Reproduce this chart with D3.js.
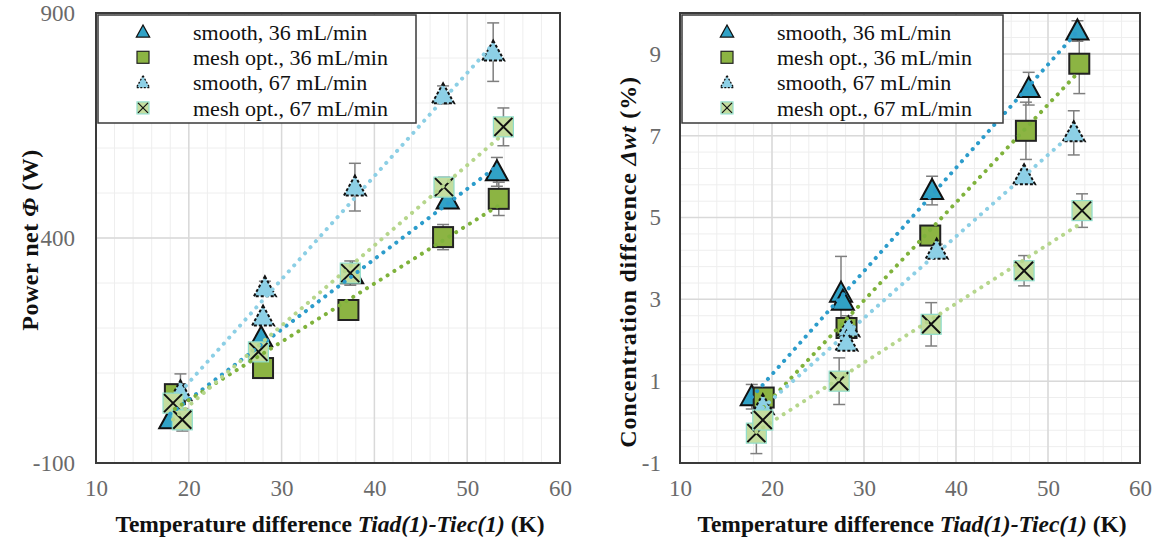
<!DOCTYPE html>
<html>
<head>
<meta charset="utf-8">
<script src="https://cdn.jsdelivr.net/npm/d3@7"></script>
<style>
  body { margin: 0; background: #fff; }
  svg { display: block; }
</style>
</head>
<body>
<svg id="chart" width="1162" height="542"></svg>
<script>
// --- DATA ---
const xTicks = [10, 20, 30, 40, 50, 60];
const powerTicks = [-100, 400, 900];
const concTicks = [-1, 1, 3, 5, 7, 9];
const legendLabels = ["smooth, 36 mL/min", "mesh opt., 36 mL/min", "smooth, 67 mL/min", "mesh opt., 67 mL/min"];

// left panel: power net (W)
const powSmooth36X = [18.0, 27.8, 37.6, 47.9, 53.2];
const powSmooth36Y = [-4, 178, 318, 484, 547];
const powSmooth36E = [0, 0, 0, 10, 32];
const powMesh36X = [18.5, 28.0, 37.2, 47.4, 53.4];
const powMesh36Y = [53, 111, 240, 402, 487];
const powMesh36E = [0, 0, 0, 28, 37];
const powSmooth67X = [19.1, 28.2, 28.0, 37.9, 47.4, 52.8];
const powSmooth67Y = [58, 289, 224, 513, 718, 813];
const powSmooth67E = [40, 15, 0, 53, 20, 65];
const powMesh67X = [18.3, 19.3, 27.5, 37.4, 47.5, 53.9];
const powMesh67Y = [33, -4, 147, 322, 513, 647];
const powMesh67E = [30, 25, 0, 27, 22, 42];

// right panel: concentration difference (%)
const conSmooth36X = [17.8, 27.5, 27.7, 37.4, 47.9, 53.2];
const conSmooth36Y = [0.62, 3.15, 2.95, 5.66, 8.15, 9.56];
const conSmooth36E = [0.3, 0.9, 0, 0.35, 0.4, 0.25];
const conMesh36X = [19.1, 28.1, 37.2, 47.6, 53.4];
const conMesh36Y = [0.6, 2.3, 4.56, 7.12, 8.76];
const conMesh36E = [0, 0.3, 0, 0.7, 0.73];
const conSmooth67X = [19.0, 28.3, 28.1, 37.9, 47.4, 52.8];
const conSmooth67Y = [0.4, 2.3, 1.95, 4.2, 6.02, 7.07];
const conSmooth67E = [0, 0, 0, 0.15, 0, 0.54];
const conMesh67X = [18.3, 19.0, 27.3, 37.3, 47.4, 53.7];
const conMesh67Y = [-0.27, 0.05, 1.0, 2.39, 3.7, 5.17];
const conMesh67E = [0.5, 0, 0.57, 0.53, 0.37, 0.41];

// --- STYLE ---
const styles = [
  { shape: "tri", fill: "#31a2c6", stroke: "#111", dash: null, trend: "#2c9ccb" },
  { shape: "sq", fill: "#8cb443", stroke: "#222", dash: null, trend: "#7fb23c" },
  { shape: "tri", fill: "#8dd0e6", stroke: "#111", dash: "3,2", trend: "#8ccfe5" },
  { shape: "x", fill: "#c4dd9f", stroke: "#8fdccb", dash: null, trend: "#b6d68c" }
];

function zipSeries(xs, ys, es) {
  return xs.map((x, i) => ({ x: x, y: ys[i], e: es[i] }));
}

const powerSeries = [
  zipSeries(powSmooth36X, powSmooth36Y, powSmooth36E),
  zipSeries(powMesh36X, powMesh36Y, powMesh36E),
  zipSeries(powSmooth67X, powSmooth67Y, powSmooth67E),
  zipSeries(powMesh67X, powMesh67Y, powMesh67E)
];
const concSeries = [
  zipSeries(conSmooth36X, conSmooth36Y, conSmooth36E),
  zipSeries(conMesh36X, conMesh36Y, conMesh36E),
  zipSeries(conSmooth67X, conSmooth67Y, conSmooth67E),
  zipSeries(conMesh67X, conMesh67Y, conMesh67E)
];

const svg = d3.select("#chart");
const serif = "'Liberation Serif', 'Times New Roman', serif";
const plotTop = 13, plotBottom = 463;
const fmt = d => String(d); // plain hyphen for negatives, like the original

// marker drawing
function drawMarker(g, st, size) {
  const s = size;
  if (st.shape === "tri") {
    g.append("path")
      .attr("d", `M0,${-s * 0.58}L${s * 0.55},${s * 0.42}L${-s * 0.55},${s * 0.42}Z`)
      .attr("fill", st.fill)
      .attr("stroke", st.stroke)
      .attr("stroke-width", s > 14 ? 2 : 1.3)
      .attr("stroke-dasharray", st.dash && s > 14 ? st.dash : (st.dash ? "2,1.5" : null))
      .attr("stroke-linejoin", "miter");
  } else if (st.shape === "sq") {
    g.append("rect")
      .attr("x", -s / 2).attr("y", -s / 2).attr("width", s).attr("height", s)
      .attr("fill", st.fill).attr("stroke", st.stroke).attr("stroke-width", s > 14 ? 2 : 1.2);
  } else {
    g.append("rect")
      .attr("x", -s / 2).attr("y", -s / 2).attr("width", s).attr("height", s)
      .attr("fill", st.fill).attr("stroke", st.stroke).attr("stroke-width", 1.2);
    const d = s / 2 - 1;
    g.append("path")
      .attr("d", `M${-d},${-d}L${d},${d}M${d},${-d}L${-d},${d}`)
      .attr("stroke", "#111").attr("stroke-width", s > 14 ? 2 : 1.2);
  }
}

function linFit(pts) {
  const mx = d3.mean(pts, p => p.x), my = d3.mean(pts, p => p.y);
  const sxy = d3.sum(pts, p => (p.x - mx) * (p.y - my));
  const sxx = d3.sum(pts, p => (p.x - mx) * (p.x - mx));
  const b = sxy / sxx;
  return x => my + b * (x - mx);
}

function drawPanel(opt) {
  const x = d3.scaleLinear().domain([10, 60]).range([opt.left, opt.right]);
  const y = d3.scaleLinear().domain(opt.yDomain).range([plotBottom, plotTop]);
  const g = svg.append("g");

  // grid
  const minorX = d3.range(10, 60.01, 2);
  g.append("g").selectAll("line").data(minorX).enter().append("line")
    .attr("x1", d => x(d)).attr("x2", d => x(d)).attr("y1", plotTop).attr("y2", plotBottom)
    .attr("stroke", "#eeeeee").attr("stroke-width", 1);
  g.append("g").selectAll("line").data(opt.minorY).enter().append("line")
    .attr("y1", d => y(d)).attr("y2", d => y(d)).attr("x1", opt.left).attr("x2", opt.right)
    .attr("stroke", "#eeeeee").attr("stroke-width", 1);
  g.append("g").selectAll("line").data(xTicks).enter().append("line")
    .attr("x1", d => x(d)).attr("x2", d => x(d)).attr("y1", plotTop).attr("y2", plotBottom)
    .attr("stroke", "#d9d9d9").attr("stroke-width", 1.5);
  g.append("g").selectAll("line").data(opt.yTicks).enter().append("line")
    .attr("y1", d => y(d)).attr("y2", d => y(d)).attr("x1", opt.left).attr("x2", opt.right)
    .attr("stroke", "#d9d9d9").attr("stroke-width", 1.5);

  // axes (labels only, frame drawn separately)
  const xAxis = g.append("g").attr("transform", `translate(0,${plotBottom})`)
    .call(d3.axisBottom(x).tickValues(xTicks).tickFormat(fmt).tickSize(0).tickPadding(17));
  const yAxis = g.append("g").attr("transform", `translate(${opt.left},0)`)
    .call(d3.axisLeft(y).tickValues(opt.yTicks).tickFormat(fmt).tickSize(0).tickPadding(opt.yPad));
  [xAxis, yAxis].forEach(a => {
    a.select(".domain").remove();
    a.selectAll("text").attr("font-family", serif).attr("font-size", 23).attr("fill", "#6a6a6a");
  });

  // frame
  g.append("rect")
    .attr("x", opt.left).attr("y", plotTop)
    .attr("width", opt.right - opt.left).attr("height", plotBottom - plotTop)
    .attr("fill", "none").attr("stroke", "#3a3a3a").attr("stroke-width", 2);

  // error bars
  opt.series.forEach(ser => {
    ser.filter(p => p.e > 0).forEach(p => {
      const eg = g.append("g").attr("stroke", "#7f7f7f").attr("stroke-width", 1.5);
      eg.append("line").attr("x1", x(p.x)).attr("x2", x(p.x)).attr("y1", y(p.y - p.e)).attr("y2", y(p.y + p.e));
      [p.y - p.e, p.y + p.e].forEach(v => {
        eg.append("line").attr("x1", x(p.x) - 6).attr("x2", x(p.x) + 6).attr("y1", y(v)).attr("y2", y(v));
      });
    });
  });

  // markers
  opt.series.forEach((ser, i) => {
    ser.forEach(p => {
      const mg = g.append("g").attr("transform", `translate(${x(p.x)},${y(p.y)})`);
      drawMarker(mg, styles[i], 20);
    });
  });

  // trend lines
  opt.series.forEach((ser, i) => {
    const f = linFit(ser);
    const [x0, x1] = d3.extent(ser, p => p.x);
    g.append("line")
      .attr("x1", x(x0)).attr("y1", y(f(x0)))
      .attr("x2", x(x1)).attr("y2", y(f(x1)))
      .attr("stroke", styles[i].trend).attr("stroke-width", 4)
      .attr("stroke-linecap", "round").attr("stroke-dasharray", "0.1,8");
  });

  // legend
  const lg = g.append("g");
  lg.append("rect")
    .attr("x", opt.left + 2).attr("y", 15)
    .attr("width", opt.legendW).attr("height", 108)
    .attr("fill", "#fff").attr("stroke", "#3a3a3a").attr("stroke-width", 1.5);
  legendLabels.forEach((lab, i) => {
    const ly = 32 + i * 25.3;
    const mg = lg.append("g").attr("transform", `translate(${opt.left + 47},${ly})`);
    drawMarker(mg, styles[i], 12);
    lg.append("text")
      .attr("x", opt.left + 97).attr("y", ly).attr("dy", "0.35em")
      .attr("font-family", serif).attr("font-size", 22).attr("fill", "#111")
      .text(lab);
  });

  // x title
  const xt = g.append("text")
    .attr("x", (opt.left + opt.right) / 2 + 2).attr("y", 524).attr("dy", "0.35em")
    .attr("text-anchor", "middle")
    .attr("font-family", serif).attr("font-size", 23.5).attr("font-weight", "bold").attr("fill", "#111");
  xt.append("tspan").text("Temperature difference ");
  xt.append("tspan").attr("font-style", "italic").text("Tiad(1)-Tiec(1)");
  xt.append("tspan").text(" (K)");

  // y title
  const yt = g.append("text")
    .attr("transform", `translate(${opt.yTitleX},${opt.yTitleY}) rotate(-90)`)
    .attr("text-anchor", "middle").attr("dy", "0.35em")
    .attr("font-family", serif).attr("font-size", opt.yTitleSize).attr("font-weight", "bold")
    .attr("letter-spacing", opt.yTitleSpacing).attr("fill", "#111");
  opt.yTitle.forEach(part => {
    yt.append("tspan").attr("font-style", part.it ? "italic" : null).text(part.t);
  });
}

drawPanel({
  left: 96, right: 560,
  yDomain: [-100, 900], yTicks: powerTicks,
  minorY: d3.range(-100, 900.01, 100),
  yPad: 21, series: powerSeries, legendW: 318,
  yTitleX: 30, yTitleY: 240, yTitleSize: 24, yTitleSpacing: 0.5,
  yTitle: [{ t: "Power net " }, { t: "Φ", it: true }, { t: " (W)" }]
});

drawPanel({
  left: 680, right: 1140,
  yDomain: [-1, 10], yTicks: concTicks,
  minorY: d3.range(-1, 10.01, 0.4),
  yPad: 19, series: concSeries, legendW: 321,
  yTitleX: 628, yTitleY: 262, yTitleSize: 24, yTitleSpacing: 0.8,
  yTitle: [{ t: "Concentration difference " }, { t: "Δwt", it: true }, { t: " (%)" }]
});
</script>
</body>
</html>
